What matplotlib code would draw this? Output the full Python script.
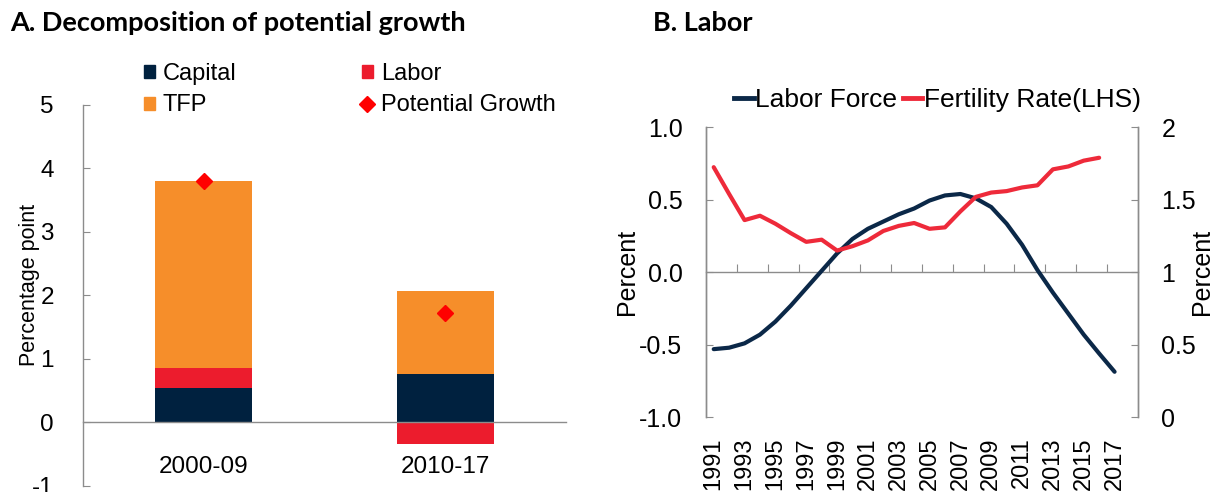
import matplotlib
matplotlib.use("Agg")
import matplotlib.pyplot as plt
import numpy as np
from matplotlib.lines import Line2D
from matplotlib.patches import Patch

# Panel A: contributions to potential growth (percentage points)
periods = ["2000-09", "2010-17"]
capital = [0.535, 0.76]
labor = [0.315, -0.346]
tfp = [2.95, 1.31]
potential_growth = [3.80, 1.726]
a_yticks = [-1, 0, 1, 2, 3, 4, 5]
a_yticklabels = ["-1", "0", "1", "2", "3", "4", "5"]

# Panel B: labor force growth and fertility rate
years = list(range(1991, 2019))
labor_force = [-0.53, -0.52, -0.49, -0.43, -0.34, -0.23, -0.11, 0.01, 0.13,
               0.23, 0.30, 0.35, 0.40, 0.44, 0.495, 0.53, 0.54, 0.51, 0.45,
               0.335, 0.19, 0.015, -0.14, -0.285, -0.43, -0.56, -0.686]
fertility = [1.725, 1.54, 1.36, 1.39, 1.335, 1.27, 1.21, 1.225, 1.15, 1.18,
             1.22, 1.285, 1.32, 1.34, 1.30, 1.31, 1.42, 1.52, 1.55, 1.56,
             1.585, 1.60, 1.71, 1.73, 1.77, 1.79]
b_left_ticks = [-1.0, -0.5, 0.0, 0.5, 1.0]
b_left_labels = ["-1.0", "-0.5", "0.0", "0.5", "1.0"]
b_right_ticks = [0, 0.5, 1, 1.5, 2]
b_right_labels = ["0", "0.5", "1", "1.5", "2"]

NAVY = "#00213f"
RED = "#ec1c2d"
ORANGE = "#f68e2a"
DIAMOND = "#ff0000"
LINE_NAVY = "#0b2848"
LINE_RED = "#ee2a3a"
GRID_GRAY = "#8c8c8c"

plt.rcParams["font.family"] = ["Liberation Sans", "DejaVu Sans"]
W, H = 1214, 492
fig = plt.figure(figsize=(W / 100, H / 100), dpi=100)


def px_axes(left, top, right, bottom):
    return fig.add_axes([left / W, 1 - bottom / H, (right - left) / W, (bottom - top) / H])


# ---- Panel A ----
ax = px_axes(83, 104.7, 566, 485.7)
x = np.arange(len(periods))
cap = np.array(capital)
lab = np.array(labor)
tf = np.array(tfp)
width = 0.4

ax.bar(x, cap, width, color=NAVY, zorder=2)
lab_bottom = np.where(lab >= 0, cap, 0)
ax.bar(x, lab, width, bottom=lab_bottom, color=RED, zorder=2)
tfp_bottom = cap + np.clip(lab, 0, None)
ax.bar(x, tf, width, bottom=tfp_bottom, color=ORANGE, zorder=2)
ax.plot(x, potential_growth, linestyle="none", marker="D", markersize=8.5,
        color=DIAMOND, zorder=3)

ax.set_xlim(-0.5, 1.5)
ax.set_ylim(-1, 5)
ax.set_yticks(a_yticks)
ax.set_yticklabels(a_yticklabels)
ax.set_xticks(x)
ax.set_xticklabels(periods)
for side in ("top", "right"):
    ax.spines[side].set_visible(False)
ax.spines["bottom"].set_position(("data", 0))
ax.spines["bottom"].set_zorder(4)
for side in ("left", "bottom"):
    ax.spines[side].set_color(GRID_GRAY)
    ax.spines[side].set_linewidth(1.0)
ax.tick_params(axis="y", direction="in", length=5, color=GRID_GRAY,
               labelsize=17.5, pad=21)
ax.tick_params(axis="x", length=0, labelsize=17.5, pad=24)
ax.set_ylabel("Percentage point", fontsize=15.5)
ax.yaxis.set_label_coords(-0.089, 0.527)

handles_a = [
    Patch(color=NAVY, label="Capital"),
    Patch(color=ORANGE, label="TFP"),
    Patch(color=RED, label="Labor"),
    Line2D([], [], linestyle="none", marker="D", markersize=8, color=DIAMOND,
           label="Potential Growth"),
]
fig.legend(handles=handles_a, ncol=2, loc="center left",
           bbox_to_anchor=(144 / W, 1 - 89.5 / H), frameon=False,
           fontsize=17, handlelength=0.47, handleheight=0.47,
           handletextpad=0.33, columnspacing=5.3, labelspacing=0.42,
           borderpad=0, borderaxespad=0)

fig.text(10 / W, 1 - 23 / H, "A. Decomposition of potential growth",
         fontsize=19.5, fontweight="bold", family="Lato", va="center", ha="left")

# ---- Panel B ----
bx = px_axes(706, 127.3, 1137.7, 417.3)
bx2 = bx.twinx()
idx = np.arange(len(years))
bx.plot(idx[:len(labor_force)], labor_force, color=LINE_NAVY, linewidth=3.0,
        solid_capstyle="round", zorder=3)
bx2.plot(idx[:len(fertility)], fertility, color=LINE_RED, linewidth=3.0,
         solid_capstyle="round", zorder=3)

bx.set_xlim(-0.5, len(years) - 0.5)
bx.set_ylim(-1.0, 1.0)
bx2.set_ylim(0, 2)
bx.set_yticks(b_left_ticks)
bx.set_yticklabels(b_left_labels)
bx2.set_yticks(b_right_ticks)
bx2.set_yticklabels(b_right_labels)

# category boundary ticks every two years along the zero line
bx.set_xticks(idx[1:-1:2] + 0.5)
bx.set_xticklabels([])
bx.spines["bottom"].set_position(("data", 0))
bx.tick_params(axis="x", direction="in", length=5.5, color=GRID_GRAY)
for a in (bx, bx2):
    a.spines["top"].set_visible(False)
    for s in ("left", "right", "bottom"):
        a.spines[s].set_color(GRID_GRAY)
        a.spines[s].set_linewidth(1.0)
bx2.spines["bottom"].set_visible(False)
bx.tick_params(axis="y", direction="in", length=5, color=GRID_GRAY,
               labelsize=18, pad=17)
bx2.tick_params(axis="y", direction="in", length=5, color=GRID_GRAY,
                labelsize=18, pad=17)

for i in idx[::2]:
    bx.text(i, -0.068, str(years[i]), transform=bx.get_xaxis_transform(),
            rotation=90, ha="center", va="top", fontsize=17)

bx.set_ylabel("Percent", fontsize=18)
bx.yaxis.set_label_coords(-0.155, 0.5)
bx2.set_ylabel("Percent", fontsize=18, rotation=90)
bx2.yaxis.set_label_coords(1.122, 0.5)

handles_b = [
    Line2D([], [], color=LINE_NAVY, linewidth=3.5, label="Labor Force"),
    Line2D([], [], color=LINE_RED, linewidth=3.5, label="Fertility Rate(LHS)"),
]
fig.legend(handles=handles_b, ncol=2, loc="center left",
           bbox_to_anchor=(734 / W, 1 - 100 / H), frameon=False,
           fontsize=19, handlelength=0.74, handletextpad=0.04,
           columnspacing=0.24, borderpad=0, borderaxespad=0)

fig.text(653 / W, 1 - 23 / H, "B. Labor", fontsize=19.5, fontweight="bold",
         family="Lato", va="center", ha="left")

fig.savefig("out.png", dpi=100)
